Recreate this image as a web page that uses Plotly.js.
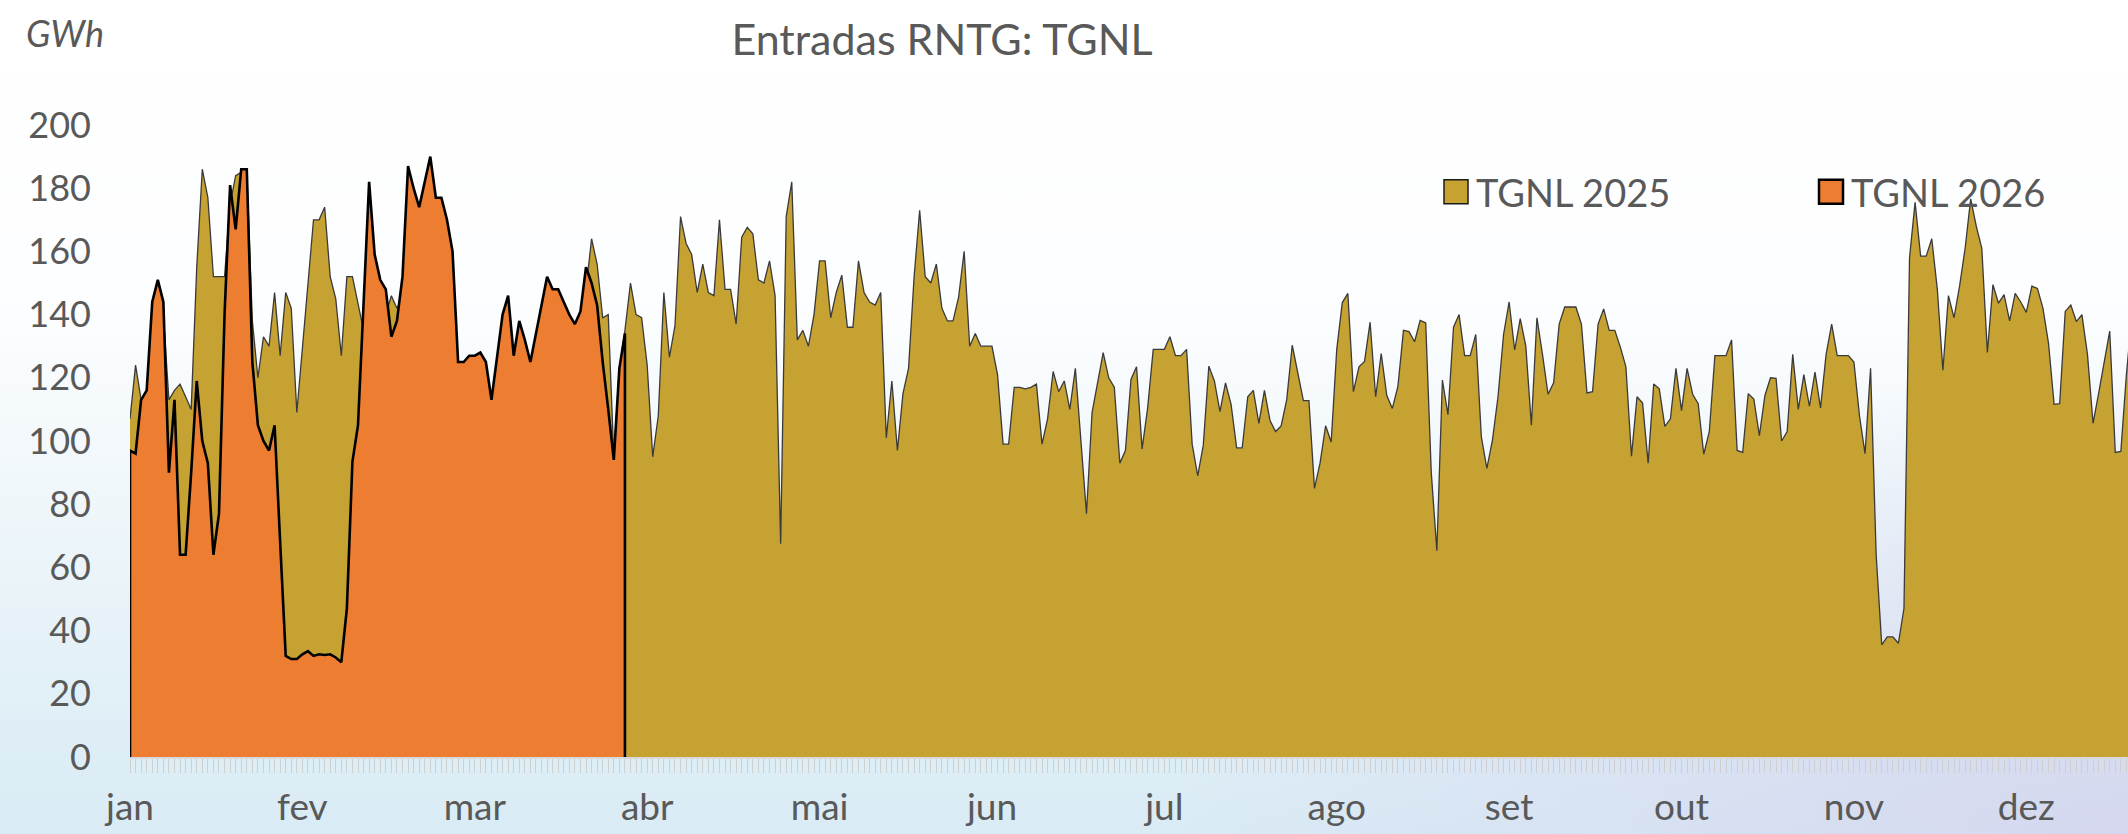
<!DOCTYPE html>
<html>
<head>
<meta charset="utf-8">
<script src="https://cdn.plot.ly/plotly-3.0.1.min.js"></script>
<style>
html, body { margin: 0; padding: 0; }
#chart {
  width: 2128px; height: 834px;
  background:
    radial-gradient(ellipse 45% 55% at 100% 100%, rgba(212,212,238,0.85), rgba(212,212,238,0) 100%),
    linear-gradient(to bottom, #ffffff 0%, #fdfeff 35%, #eef6fa 62%, #e2f0f7 82%, #d9ebf5 100%);
}
</style>
</head>
<body>
<div id="chart"></div>
<script>
// Month labels (Excel category axis, one label every 31 days)
const monthLabels = ['jan','fev','mar','abr','mai','jun','jul','ago','set','out','nov','dez'];
const labelInterval = 31;

// Daily values, GWh (from 1 Jan)
const tgnl2025 = [
 107,124,113,115,140,147,140,113,116,118, 114,110,155,186,177,152,152,152,175,184,
 185,186,138,120,133,130,147,127,147,142, 109,130,150,170,170,174,152,145,127,152,
 152,144,135,170,150,142,140,146,142,145, 170,165,160,168,175,165,160,150,140,118,
 115,120,118,122,115,105,118,130,135,120, 128,122,118,126,135,140,138,140,134,130,
 128,132,148,164,156,139,140,95,123,135, 150,140,139,124,95,108,147,126.5,136.5,171,
 162.5,159,147,156,147,146,170,148,148,137, 164.5,167.6,165.6,151,150,157,146,67.5,171,182,
 132,135,130,140,157,157,139,147,152.5,136, 136,157,147,144,143,147,101,119,97,115,
 123,152,173,152,150,156,142,138,138,145.5, 160,130,134,130,130,130,121,99,99,117,
 117,116.5,117,118,99,107,122,115.6,119,110, 123,100,77,109,118,128,120,117,93,97,
 119.5,123.5,97.5,110.5,129,129,129,133,127,127, 129,99,89,98.6,123.7,119,109.3,118.4,111.6,97.8,
 97.8,114,116,105.6,116,106.5,103,104.8,113,130.3, 121.8,112.8,112.8,85,93,104.8,99.7,129,143.8,146.7,
 115.6,123.5,125.2,137.6,114,127.7,114.4,110.3,117.3,135, 134.6,131.4,138.2,137.4,90,65.3,119.3,108.3,136,140,
 127,127,133.7,101.4,91.3,100.3,114,133.7,144,128.8, 138.7,130,105,139,127.4,114.8,118.4,137,142.4,142.4,
 142.4,137,115.2,115.6,137,141.8,135,135,129.7,123.5, 95.2,114,112,93,118,116.5,104.6,107,123,109.6,
 123,114.8,111.8,95.8,103,127,127,127,132,97, 96.4,115,113.3,101.7,114.4,120,119.8,100,103,127.4,
 110,121,111,121.8,110.5,127.4,137,127,127,127, 125,108,96,123,64,35.5,38,38,36,47,
 158,175.5,158.5,158.5,164,148,122.4,146,139,149, 161,176.6,168,161,128,149.5,143.6,146.3,138,146.7,
 144,140.7,149,148.3,142,130.8,111.6,111.8,141,143, 137.8,140,127.4,105.6,115,125,134.8,96.4,96.7,121,
 140
];

const tgnl2026 = [
 97,96,113,116,144,151,144,90,113,64, 64,90,119,100,93,64,77,140,181,167,
 186,186,125,105,100,97,105,68,32,31, 31,32.5,33.5,32,32.5,32.3,32.5,31.5,30,47,
 93.5,105,143,182,159,151,148,133,138,152, 187,180,174,182,190,177,177,170,160,125,
 125,127,127,128,125,113,126,140,146,127, 138,132,125,134,143,152,148,148,144,140,
 137,141,155,150,143,125,110,94,123,134
];

const seriesNames = ['TGNL 2025', 'TGNL 2026'];
const fillColors = ['#C6A233', '#ED7D31'];

const idx2025 = tgnl2025.map((_, i) => i);
// 2026 area outline closed down to the baseline at both ends (Excel-style edges)
const idx2026 = tgnl2026.map((_, i) => i);
const x2026 = [idx2026[0]].concat(idx2026, [idx2026[idx2026.length - 1]]);
const y2026 = [0].concat(tgnl2026, [0]);

const tickVals = monthLabels.map((_, i) => i * labelInterval);

const traces = [
  {
    x: idx2025, y: tgnl2025, type: 'scatter', mode: 'lines',
    fill: 'tozeroy', fillcolor: fillColors[0],
    line: { color: '#3a3a3a', width: 1.3 },
    name: seriesNames[0], showlegend: false, hoverinfo: 'skip'
  },
  {
    x: x2026, y: y2026, type: 'scatter', mode: 'lines',
    fill: 'tozeroy', fillcolor: fillColors[1],
    line: { color: '#000000', width: 2.6 },
    name: seriesNames[1], showlegend: false, hoverinfo: 'skip'
  },
  // legend entries (square swatches)
  {
    x: [null], y: [null], type: 'scatter', mode: 'markers', name: seriesNames[0],
    marker: { symbol: 'square', size: 16, color: fillColors[0], line: { color: '#1a1a1a', width: 1.5 } },
    legend: 'legend', showlegend: true
  },
  {
    x: [null], y: [null], type: 'scatter', mode: 'markers', name: seriesNames[1],
    marker: { symbol: 'square', size: 16, color: fillColors[1], line: { color: '#000000', width: 2.5 } },
    legend: 'legend2', showlegend: true
  }
];

const W = 2128, H = 834;
const plotL = 130, plotR = 0, plotT = 125, plotB = 77;
const plotW = W - plotL - plotR, plotH = H - plotT - plotB;
const pxPerDay = 5.561;

const txt = '#595959';
const fam = 'Lato, "Open Sans", sans-serif';

const layout = {
  width: W, height: H,
  margin: { l: plotL, r: plotR, t: plotT, b: plotB, pad: 0 },
  paper_bgcolor: 'rgba(0,0,0,0)',
  plot_bgcolor: 'rgba(0,0,0,0)',
  font: { family: fam, color: txt },
  title: {
    text: 'Entradas RNTG: TGNL',
    font: { family: fam, size: 43, color: txt },
    x: 942 / W, xanchor: 'center', xref: 'container',
    y: 1 - 40 / H, yanchor: 'middle', yref: 'container'
  },
  xaxis: {
    range: [0, plotW / pxPerDay],
    tickmode: 'array', tickvals: tickVals, ticktext: monthLabels,
    ticks: 'outside', ticklen: 14, tickwidth: 1, tickcolor: '#cfcfcf',
    minor: { tickmode: 'linear', tick0: 0, dtick: 1, ticks: 'outside', ticklen: 14, tickwidth: 1, tickcolor: '#cfcfcf' },
    showline: true, linecolor: '#d9d9d9', linewidth: 2,
    showgrid: false, zeroline: false,
    tickfont: { family: fam, size: 37, color: txt },
    ticklabelstandoff: 3,
    fixedrange: true
  },
  yaxis: {
    range: [0, 200], tickmode: 'linear', tick0: 0, dtick: 20,
    ticks: '', showline: false, showgrid: false, zeroline: false,
    tickfont: { family: fam, size: 36, color: txt },
    ticklabelstandoff: 38,
    fixedrange: true
  },
  legend: {
    orientation: 'h', x: (1436 - plotL) / plotW, xanchor: 'left',
    y: (H - plotB - 192) / plotH, yanchor: 'middle',
    bgcolor: 'rgba(0,0,0,0)', font: { family: fam, size: 38, color: txt }
  },
  legend2: {
    orientation: 'h', x: (1811 - plotL) / plotW, xanchor: 'left',
    y: (H - plotB - 192) / plotH, yanchor: 'middle',
    bgcolor: 'rgba(0,0,0,0)', font: { family: fam, size: 38, color: txt }
  },
  annotations: [{
    text: 'GWh', showarrow: false,
    xref: 'paper', yref: 'paper',
    x: (24 - plotL) / plotW, xanchor: 'left',
    y: (H - plotB - 33) / plotH, yanchor: 'middle',
    font: { family: fam, size: 36, color: txt, style: 'italic' }
  }],
  showlegend: true,
  hovermode: false
};

Plotly.newPlot('chart', traces, layout, { staticPlot: true, displayModeBar: false }).then(gd => {
  // enlarge legend swatches to match the reference squares
  gd.querySelectorAll('.legendpoints path.scatterpts').forEach(p => {
    p.setAttribute('d', 'M12,12H-12V-12H12Z');
  });
});
</script>
</body>
</html>
